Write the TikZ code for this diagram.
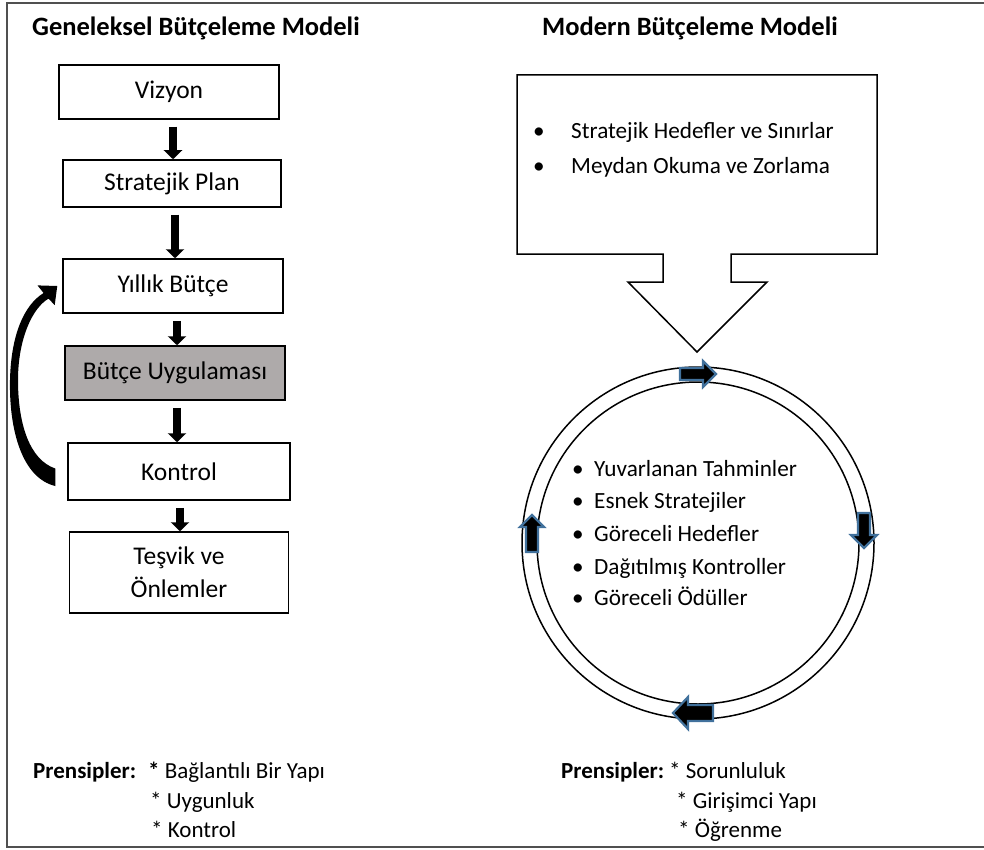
\documentclass[tikz,border=0pt]{standalone}
\usepackage{fontspec}
\setmainfont{Carlito}
\usetikzlibrary{arrows.meta,calc}
\definecolor{boxgray}{RGB}{174,170,170}
\definecolor{ringblue}{RGB}{65,113,156}
\definecolor{framegray}{RGB}{80,80,80}
\tikzset{
  stagebox/.style={draw=black, line width=1.5pt, inner sep=0pt, align=center,
    font=\fontsize{25.5}{33}\selectfont},
  flowarrow/.style={line width=8pt, -{Triangle[width=18pt,length=9pt]}, shorten <=7pt},
  titletext/.style={font=\fontsize{26.5}{30}\selectfont\bfseries, inner sep=0pt},
  listtext/.style={font=\fontsize{23.2}{28}\selectfont, inner sep=0pt, anchor=base west},
  bottomtext/.style={font=\fontsize{23}{28}\selectfont, inner sep=0pt, anchor=base west},
  bottombold/.style={font=\fontsize{23}{28}\selectfont\bfseries, inner sep=0pt, anchor=base west},
  ringarrow/.style={fill=black, draw=ringblue, line width=2.2pt, line join=miter},
  outline/.style={draw=black, line width=1.5pt, line join=miter}
}
\begin{document}
\begin{tikzpicture}[x=1pt,y=-1pt]
\useasboundingbox (0,0) rectangle (984,850);
% frame
\draw[framegray, line width=1.5pt] (990,3) -- (7,3) -- (7,847) -- (990,847);

% titles
\node[titletext] (t1) at (196,28) {Geneleksel Bütçeleme Modeli};
\node[titletext] (t2) at (690,28) {Modern Bütçeleme Modeli};

% left flow
\node[stagebox, minimum width=220pt, minimum height=54pt] (viz) at (169,92) {Vizyon};
\node[stagebox, minimum width=218pt, minimum height=47pt] (sp) at (172,183.5) {Stratejik Plan};
\node[stagebox, minimum width=220pt, minimum height=54pt] (yb) at (173,286) {Yıllık Bütçe};
\node[stagebox, minimum width=220pt, minimum height=54pt, fill=boxgray] (bu) at (175,373) {Bütçe Uygulaması};
\node[stagebox, minimum width=222pt, minimum height=57pt] (kon) at (179,471.5) {Kontrol};
\node[stagebox, minimum width=219pt, minimum height=81pt] (tes) at (179,572.5) {Teşvik ve\\Önlemler};

\draw[flowarrow] ([xshift=4pt]viz.south) -- ([xshift=1pt]sp.north);
\draw[flowarrow] ([xshift=3pt]sp.south) -- ([xshift=2pt]yb.north);
\draw[flowarrow] ([xshift=4pt]yb.south) -- ([xshift=2pt]bu.north);
\draw[flowarrow] ([xshift=2pt]bu.south) -- ([xshift=-2pt]kon.north);
\draw[flowarrow] ([xshift=1pt]kon.south) -- ([xshift=1pt]tes.north);

% curved feedback arrow (Kontrol -> Yillik Butce)
\coordinate (fbtip) at ($(yb.west)+(-5,0)$);
\fill[black] ($(kon.west)+(-12,14.5)$) .. controls (22,478) and (9,430) .. (10,380)
  .. controls (11,335) and (24,305) .. (43.6,293)
  -- (37.5,285.4) -- (fbtip) -- (54.7,305.2) -- (48.6,298.6)
  .. controls (32,308) and (18,340) .. (18,380)
  .. controls (18,425) and (30,460) .. ($(kon.west)+(-12,-3)$) -- cycle;

% right: callout
\draw[outline] (517,75) -- (877,75) -- (877,254) -- (731,254) -- (731,282)
  -- (767,282) -- (697,352) -- (628,282) -- (663,282) -- (663,254)
  -- (517,254) -- cycle;
\node[listtext] (cb1) at (533,139) {•};
\node[listtext] (c1) at (571,139) {Stratejik Hedefler ve Sınırlar};
\node[listtext] (cb2) at (533,174) {•};
\node[listtext] (c2) at (571,174) {Meydan Okuma ve Zorlama};

% ring
\draw[black, line width=1.5pt] (698,543) circle[radius=176];
\draw[black, line width=1.5pt] (698,543) circle[radius=161];

% ring arrows
\draw[ringarrow] (680,368) -- (703,368) -- (703,361) -- (716,374) -- (703,387)
  -- (703,380) -- (680,380) -- cycle;
\draw[ringarrow] (858,513) -- (870,513) -- (870,535) -- (877,535) -- (864,548)
  -- (851,535) -- (858,535) -- cycle;
\draw[ringarrow] (713,705) -- (713,721) -- (688,721) -- (688,729) -- (673,713)
  -- (688,697) -- (688,705) -- cycle;
\draw[ringarrow] (526,552) -- (526,527) -- (520,527) -- (532,515) -- (544,527)
  -- (538,527) -- (538,552) -- cycle;

% ring list
\foreach \i/\txt/\yy in {1/Yuvarlanan Tahminler/476, 2/Esnek Stratejiler/508,
    3/Göreceli Hedefler/541, 4/Dağıtılmış Kontroller/574, 5/Göreceli Ödüller/605}{
  \node[listtext] (rb\i) at (572,\yy) {•};
  \node[listtext] (r\i) at (594,\yy) {\txt};
}

% bottom principles
\node[bottombold] (p1) at (33,778) {Prensipler:};
\node[bottomtext] (p1a) at (148,778) {\textbf{*} Bağlantılı Bir Yapı};
\node[bottomtext] (p1b) at (150,808) {* Uygunluk};
\node[bottomtext] (p1c) at (151,837) {* Kontrol};

\node[bottombold] (p2) at (561,778) {Prensipler:};
\node[bottomtext] (p2a) at (669,778) {* Sorunluluk};
\node[bottomtext] (p2b) at (676,808) {* Girişimci Yapı};
\node[bottomtext] (p2c) at (678,837) {* Öğrenme};
\end{tikzpicture}
\end{document}
